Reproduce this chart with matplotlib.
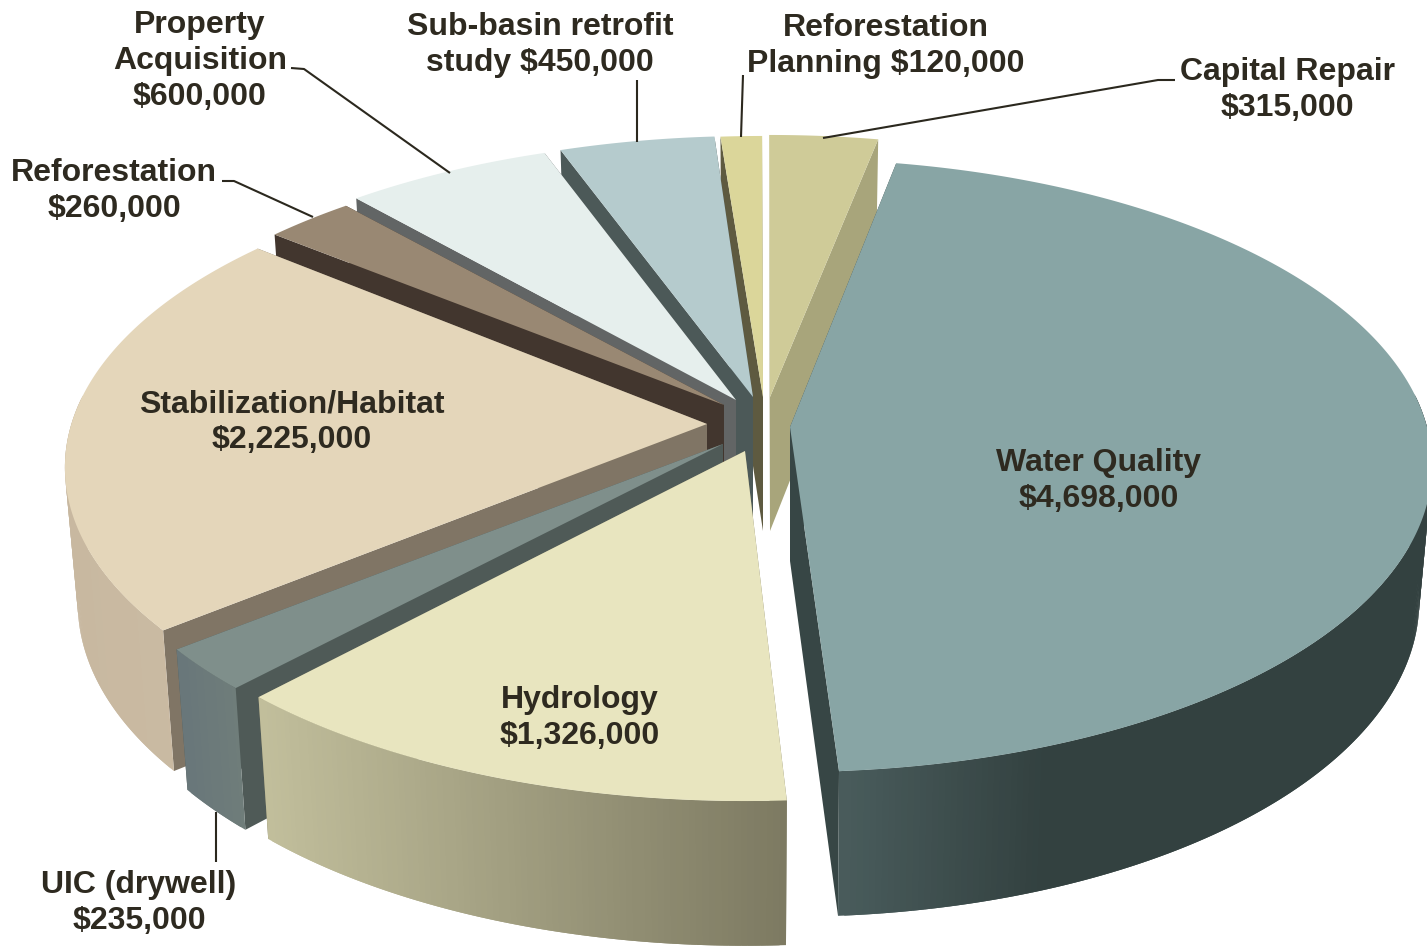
import numpy as np
import matplotlib
matplotlib.use("Agg")
import matplotlib.pyplot as plt
from matplotlib.colors import to_rgb

# --- data (clockwise from Water Quality) ---
categories = ["Water Quality", "Hydrology", "UIC (drywell)", "Stabilization/Habitat",
              "Reforestation", "Property\nAcquisition", "Sub-basin retrofit\nstudy",
              "Reforestation\nPlanning", "Capital Repair"]
values = [4698000, 1326000, 235000, 2225000, 260000, 600000, 450000, 120000, 315000]

# --- style ---
top_colors = ["#88a5a5", "#e8e5bf", "#7f8f8b", "#e4d6ba", "#998873", "#e6efed", "#b5cbcd", "#dbd69a", "#cfcb98"]
face_colors = ["#374645", "#7d7a62", "#4f5a57", "#807565", "#42362e", "#626565", "#4c5958", "#5e5a40", "#a8a57b"]
side_right = ["#334140", "#7d7a62", "#6f7d7a", "#cbbca4", "#42362e", "#626565", "#4c5958", "#5e5a40", "#a8a57b"]
side_left = ["#4a5d5d", "#c2bf9c", "#68767a", "#c8b8a0", "#42362e", "#626565", "#4c5958", "#5e5a40", "#a8a57b"]
shade_span = [0.35, 1, 1, 1, 1, 1, 1, 1, 1]
apex_x = [790, 745, 723, 707, 724, 736, 753, 763, 770]
apex_y = [427, 451, 444, 424, 405, 400, 397, 397, 397]
rim_dy = [0, 5, 6, 5, 10, 7, 7, 7, 6]
rx_scale = [1, 1.01, 1, 1, 1, 1, 1, 1, 1]
nudges = [1.8, 2.4, 3.1, 2.7, 2.7, 2.5, 2.4, 2.0, 2.0]
draw_order = [8, 7, 6, 5, 4, 3, 2, 1, 0]
START = 9.0
RX, RY, P, DEPTH, BASE = 637.0, 301.7, 0.1256, 134.0, 0.98

label_x = [1099, 580, 139, 292, 114, 200, 540, 886, 1287]
label_y = [481, 718, 903, 422, 191, 61, 45, 46, 90]
leaders = [
    ([291, 304, 450], [68, 69, 173]),
    ([222, 234, 313], [181, 181, 217]),
    ([637, 637], [80, 142]),
    ([743, 741], [75, 137]),
    ([1175, 1158, 823], [80, 80, 138]),
    ([216, 216], [812, 862]),
]
TEXT = "#2e2a20"


def top(i, t):
    X, Y = np.sin(t), np.cos(t)
    s = 1.0 / (1.0 + P * Y)
    return apex_x[i] + RX * rx_scale[i] * X * s, apex_y[i] + rim_dy[i] - RY * Y * s


def bottom(i, t):
    x, y = top(i, t)
    return apex_x[i] + (x - apex_x[i]) * BASE, y + DEPTH * (1 - 0.08 * np.cos(t))


fig = plt.figure(figsize=(14.27, 9.47), dpi=100)
ax = fig.add_axes([0, 0, 1, 1])
ax.set_xlim(0, 1427)
ax.set_ylim(947, 0)
ax.axis("off")

fractions = np.array(values, dtype=float) / sum(values)
edges = START + 360 * np.concatenate([[0], np.cumsum(fractions)])

for i in draw_order:
    t1, t2 = np.radians(edges[i] + nudges[i]), np.radians(edges[i + 1] + nudges[i])
    cx, cy = apex_x[i], apex_y[i]
    ts = np.linspace(t1, t2, max(8, int(np.degrees(t2 - t1) * 2)))
    bx, by = cx, cy + DEPTH
    # cut faces
    for t in (t1, t2):
        xt, yt = top(i, t)
        xb, yb = bottom(i, t)
        ax.fill([cx, xt, xb, bx], [cy, yt, yb, by], color=face_colors[i], lw=0)
    # outer wall, shaded strip by strip (front half only)
    xt, yt = top(i, ts)
    xb, yb = bottom(i, ts)
    c_r, c_l = np.array(to_rgb(side_right[i])), np.array(to_rgb(side_left[i]))
    x_lo, x_hi = xt.min(), xt.max()
    for k in range(len(ts) - 2):
        if np.cos(ts[k]) > 0.1 and np.cos(ts[k + 2]) > 0.1:
            continue
        f = min(1.0, (xt[k] - x_lo) / max(x_hi - x_lo, 1) / shade_span[i])
        c = c_l + (c_r - c_l) * f
        ax.fill([xt[k], xt[k + 1], xt[k + 2], xb[k + 2], xb[k + 1], xb[k]],
                [yt[k], yt[k + 1], yt[k + 2], yb[k + 2], yb[k + 1], yb[k]],
                color=c, lw=0)
    # top
    ax.fill(np.r_[cx, xt], np.r_[cy, yt], color=top_colors[i], lw=0)

for lx, ly in leaders:
    ax.plot(lx, ly, color="#2b281e", lw=1.5, solid_capstyle="butt", zorder=3)

amount_text = ["${:,}".format(v) for v in values]
for name, amount, x, y in zip(categories, amount_text, label_x, label_y):
    sep = " " if name in ("Sub-basin retrofit\nstudy", "Reforestation\nPlanning") else "\n"
    ax.text(x, y, name + sep + amount, ha="center", va="center", fontsize=23,
            fontweight="bold", family="Liberation Sans", color=TEXT, linespacing=1.24, zorder=4)

fig.savefig("out.png", dpi=100)
